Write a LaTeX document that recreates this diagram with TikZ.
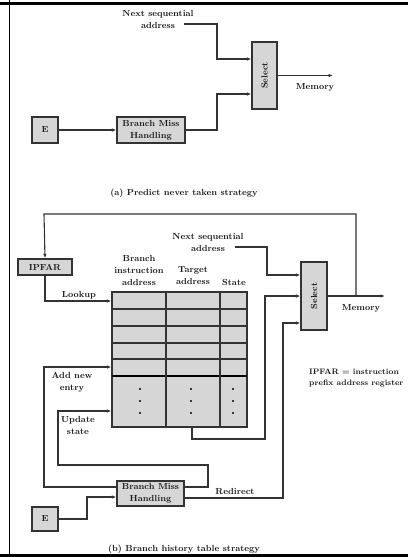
\documentclass[tikz,border=0pt]{standalone}
\usetikzlibrary{arrows.meta}
\definecolor{linec}{HTML}{333333}
\definecolor{boxfill}{HTML}{D6D6D6}
\begin{document}
\begin{tikzpicture}[x=1pt,y=-1pt,
  txt/.style={font=\fontsize{8.8}{12}\selectfont\bfseries, inner sep=0pt, align=center, text=black!90},
  box/.style={draw=linec, line width=1.3pt, fill=boxfill, inner sep=0pt, txt},
  conn/.style={draw=linec, line width=1.1pt},
  arr/.style={conn, -{Latex[length=4.5pt,width=3.6pt]}}]
\useasboundingbox (0,0) rectangle (408,557);
% frame
\draw[line width=3pt] (0,3.5) -- (408,3.5);
\draw[line width=0.9pt] (9,0) -- (9,557);
\draw[line width=4pt] (0,555.5) -- (408,555.5);

% ---------------- (a) ----------------
\node[txt] (nsA) at (158,19) {Next sequential\\address};
\coordinate (nsAend) at (184,24);
\node[box, minimum width=25pt, minimum height=67pt] (selA) at (264.5,75.5) {\rotatebox{90}{Select}};
\node[box, minimum width=26pt, minimum height=26pt] (eA) at (45,130) {E};
\node[box, minimum width=68pt, minimum height=26pt] (bmhA) at (151,130) {Branch Miss\\Handling};
\coordinate (memA) at (333,75.5);
\node[txt] (memAl) at (315,87) {Memory};
\node[txt] (capA) at (184,193) {(a) Predict never taken strategy};

\draw[arr] (nsAend) -| (217,59) -- (selA.west |- 0,59);
\draw[arr] (bmhA.east) -| (217,94) -- (selA.west |- 0,94);
\draw[arr] (selA.east) -- (memA);
\draw[arr] (eA.east) -- (bmhA.west);

% ---------------- (b) ----------------
\node[box, minimum width=54pt, minimum height=16pt] (ipfar) at (45,267) {IPFAR};
\node[box, minimum width=135pt, minimum height=135pt] (tbl) at (179.5,359.5) {};
% table grid
\foreach \yy in {309,326,343,359}
  \draw[linec, line width=1.1pt] (112,\yy) -- (247,\yy);
\draw[black, line width=1.2pt] (112,376) -- (247,376);
\draw[linec, line width=1.2pt] (166,292) -- (166,427);
\draw[linec, line width=1.2pt] (220,292) -- (220,427);
\draw[draw=linec, line width=1.3pt] (tbl.north west) rectangle (tbl.south east);
\foreach \xx in {140,191,233}
  \foreach \yy in {389,401,413}
    \fill[black] (\xx,\yy) circle (1.1pt);
\node[txt] (h1) at (139,270) {Branch\\instruction\\address};
\node[txt] (h2) at (193,276) {Target\\address};
\node[txt] (h3) at (234,282) {State};

\node[txt] (nsB) at (208,242) {Next sequential\\address};
\coordinate (nsBend) at (235,247);
\node[box, minimum width=26pt, minimum height=68pt] (selB) at (314,296) {\rotatebox{90}{Select}};
\coordinate (memB) at (385,296);
\coordinate (tap) at (356,296);
\node[txt] (memBl) at (361,308) {Memory};
\node[txt, anchor=west, align=left, font=\fontsize{7.9}{11.5}\selectfont\bfseries] (note) at (309,378) {IPFAR = instruction\\prefix address register};

\node[box, minimum width=67pt, minimum height=25pt] (bmhB) at (150.5,493.5) {Branch Miss\\Handling};
\node[box, minimum width=26pt, minimum height=24pt] (eB) at (45,519) {E};

\node[txt] (lookup) at (79,295) {Lookup};
\node[txt] (addnew) at (72,382) {Add new\\entry};
\node[txt] (upd) at (78,425) {Update\\state};
\node[txt] (redir) at (235,491) {Redirect};
\node[txt] (capB) at (184,549) {(b) Branch history table strategy};

\draw[arr] (tap) |- (44,214) -- (ipfar.north);
\draw[arr] (ipfar.south) |- (tbl.west |- 0,301);
\draw[arr] (nsBend) -| (267,275) -- (selB.west |- 0,275);
\draw[arr] (selB.east) -- (memB);
\draw[arr] (tbl.south -| 192,0) -- (192,439) -| (265,296) -- (selB.west |- 0,296);
\draw[arr] (bmhB.east |- 0,498) -| (283,323) -- (selB.west |- 0,323);
\draw[arr] (bmhB.west |- 0,487) -| (44,367) -- (tbl.west |- 0,367);
\draw[arr] (bmhB.east |- 0,487) -| (208,465) -| (58,411) -- (tbl.west |- 0,411);
\draw[arr] (eB.east) -| (87,497) -- (bmhB.west |- 0,497);
\end{tikzpicture}
\end{document}
